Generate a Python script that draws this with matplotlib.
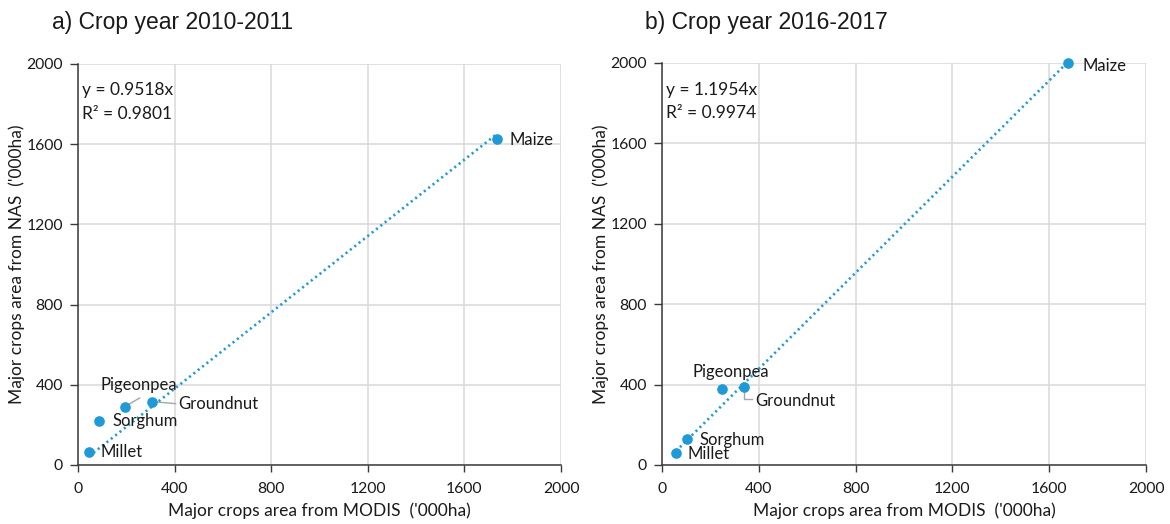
import matplotlib
matplotlib.use("Agg")
import matplotlib.pyplot as plt
import numpy as np

# ---- data ('000 ha) ----
crops = ["Maize", "Pigeonpea", "Groundnut", "Sorghum", "Millet"]

modis_2010 = [1735, 195, 306, 87, 46]
nas_2010 = [1626, 289, 314, 219, 65]
slope_2010 = 0.9518
r2_2010 = 0.9801

modis_2016 = [1678, 248, 339, 103, 58]
nas_2016 = [1998, 378, 388, 129, 60]
slope_2016 = 1.1954
r2_2016 = 0.9974

ticks = [0, 400, 800, 1200, 1600, 2000]
titles = ["a) Crop year 2010-2011", "b) Crop year 2016-2017"]
xlabel = "Major crops area from MODIS  ('000ha)"
ylabel = "Major crops area from NAS  ('000ha)"

# label offsets (data units) per crop: (dx, dy, leader-line style)
labels_2010 = {
    "Maize": (50, -6, None),
    "Pigeonpea": (-100, 110, "diag"),
    "Groundnut": (108, -10, "horiz"),
    "Sorghum": (54, 0, None),
    "Millet": (49, 0, None),
}
labels_2016 = {
    "Maize": (58, -13, None),
    "Pigeonpea": (-120, 85, None),
    "Groundnut": (45, -70, "elbow"),
    "Sorghum": (54, -5, None),
    "Millet": (49, -5, None),
}

BLUE = "#1F9AD6"
GRID = "#D9D9D9"
AXIS = "#3A3A3A"
TXT = "#1A1A1A"
LEADER = "#A6A6A6"
FONT = "Lato"

fig = plt.figure(figsize=(11.7, 5.24), dpi=100)
ax_a = fig.add_axes([0.0667, 0.1126, 0.4128, 0.7653])
ax_b = fig.add_axes([0.5658, 0.1126, 0.4137, 0.7672])


def draw(ax, xs, ys, slope, r2, labels, title, title_x):
    xs = np.asarray(xs, float)
    ys = np.asarray(ys, float)
    ax.set_xlim(0, 2000)
    ax.set_ylim(0, 2000)
    ax.set_xticks(ticks)
    ax.set_yticks(ticks)
    ax.grid(True, color=GRID, lw=1.1, zorder=0)
    ax.set_axisbelow(True)
    for s in ("top", "right"):
        ax.spines[s].set_visible(False)
    for s in ("left", "bottom"):
        ax.spines[s].set_color(AXIS)
        ax.spines[s].set_linewidth(1.1)
    ax.tick_params(axis="both", direction="out", color=AXIS, width=1.0,
                   labelsize=11.3, labelcolor=TXT)
    ax.tick_params(axis="y", length=6, pad=5)
    ax.tick_params(axis="x", length=5, pad=7)
    for lab in ax.get_xticklabels() + ax.get_yticklabels():
        lab.set_family(FONT)

    # trend line through origin across the data range
    xl = np.array([xs.min(), xs.max()])
    ax.plot(xl, slope * xl, color=BLUE, lw=1.9, ls=(0, (0.8, 1.3)),
            zorder=2, clip_on=False)
    ax.scatter(xs, ys, s=44, color=BLUE, zorder=3, clip_on=False)

    for name, x, y in zip(crops, xs, ys):
        dx, dy, leader = labels[name]
        tx, ty = x + dx, y + dy
        ax.text(tx, ty, name, family=FONT, fontsize=12, color=TXT,
                ha="left", va="center", zorder=4)
        if leader == "diag":
            ax.plot([x + 10, x + 60], [y + 10, y + 45], color=LEADER,
                    lw=1.0, zorder=1)
        elif leader == "horiz":
            ax.plot([x + 20, tx - 10], [y, y - 8], color=LEADER,
                    lw=1.0, zorder=1)
        elif leader == "elbow":
            ax.plot([x, x, tx - 10], [y - 20, ty + 10, ty + 10],
                    color=LEADER, lw=1.0, zorder=1)

    ax.text(17, 1868, f"y = {slope:.4f}x", family=FONT, fontsize=12.5,
            color=TXT, ha="left", va="center")
    ax.text(17, 1752, f"R² = {r2:.4f}", family=FONT, fontsize=12.5,
            color=TXT, ha="left", va="center")

    ax.set_xlabel(xlabel, family=FONT, fontsize=12.5, color=TXT, labelpad=5)
    ax.set_ylabel(ylabel, family=FONT, fontsize=12.5, color=TXT, labelpad=1)
    fig.text(title_x, 0.958, title, family="Liberation Sans", fontsize=16.5,
             color=TXT, ha="left", va="center")


draw(ax_a, modis_2010, nas_2010, slope_2010, r2_2010, labels_2010,
     titles[0], 0.0445)
draw(ax_b, modis_2016, nas_2016, slope_2016, r2_2016, labels_2016,
     titles[1], 0.5513)

fig.savefig("out.png", dpi=100)
